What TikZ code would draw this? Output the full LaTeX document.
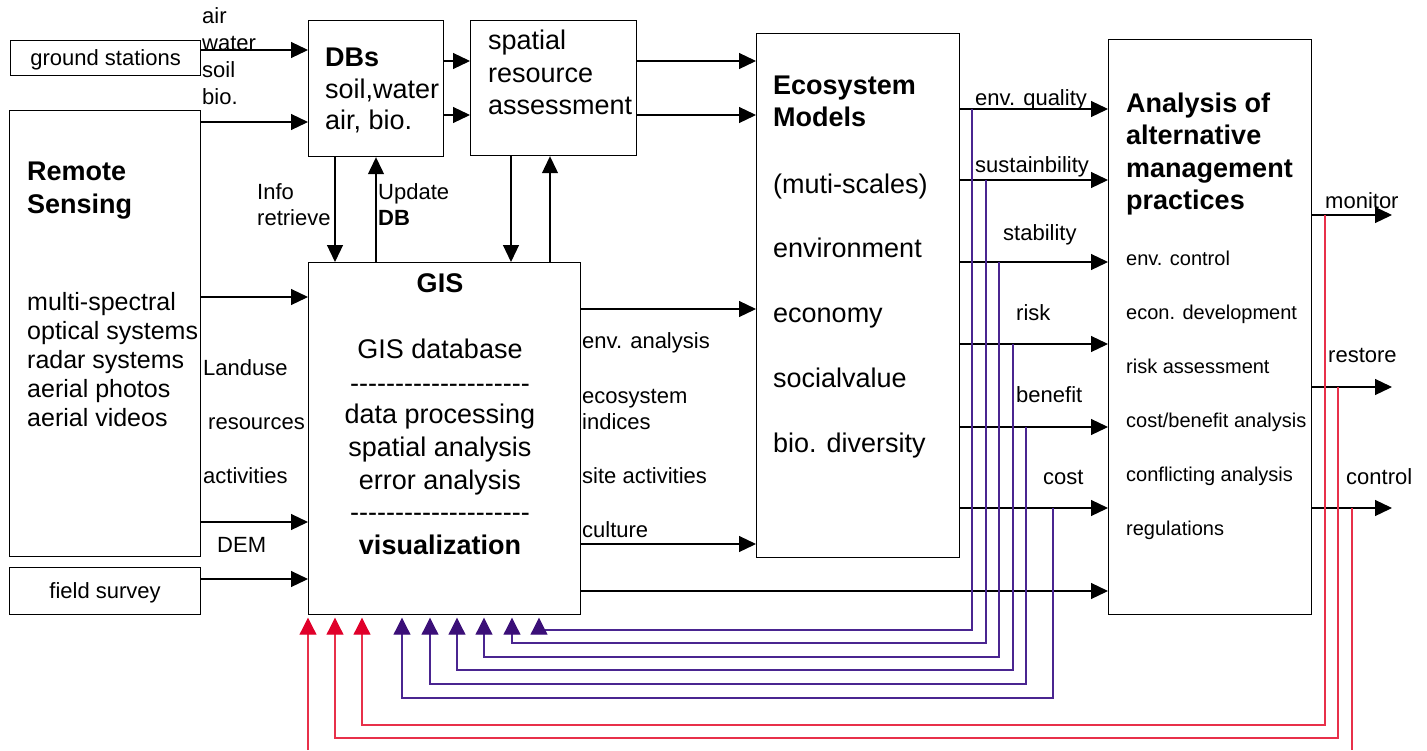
\documentclass[tikz,border=0pt]{standalone}
\usepackage{fontspec}
\setmainfont{Liberation Sans}
\usetikzlibrary{arrows.meta}
\definecolor{fbpurple}{HTML}{4A2590}
\definecolor{fbhead}{HTML}{3B0F78}
\definecolor{fbred}{HTML}{E8304A}
\definecolor{fbredhead}{HTML}{E0002A}
\newcommand\hy{-\kern0pt}
\newcommand\dashrow{\hy\hy\hy\hy\hy\hy\hy\hy\hy\hy\hy\hy\hy\hy\hy\hy\hy\hy\hy\hy}
\begin{document}
\begin{tikzpicture}[x=1pt,y=-1pt,
  box/.style={draw=black, line width=1.2pt, inner sep=0pt, anchor=north west},
  boxtext/.style={font=\fontsize{22}{26}\selectfont, text height=18pt, text depth=3pt},
  big/.style={inner sep=0pt, font=\fontsize{27}{32}\selectfont, text height=22pt, text depth=4pt},
  bigb/.style={inner sep=0pt, font=\fontsize{27}{32}\selectfont\bfseries, text height=22pt, text depth=4pt},
  rsf/.style={inner sep=0pt, font=\fontsize{25}{29}\selectfont, text height=20pt, text depth=3pt},
  mid/.style={inner sep=0pt, font=\fontsize{22}{26}\selectfont, text height=18pt, text depth=3pt},
  midb/.style={inner sep=0pt, font=\fontsize{22}{26}\selectfont\bfseries, text height=18pt, text depth=3pt},
  sml/.style={inner sep=0pt, font=\fontsize{20}{24}\selectfont, text height=17pt, text depth=3pt},
  L/.style={anchor=west},
  arr/.style={line width=1.2pt, -{Triangle[length=17pt,width=16pt]}},
  fbline/.style={draw=fbpurple, line width=1.1pt, -{Triangle[length=17pt,width=17pt,color=fbhead]}, shorten >=2.5pt},
  rdline/.style={draw=fbred, line width=1.1pt, -{Triangle[length=17pt,width=17pt,color=fbredhead]}, shorten >=2.5pt},
  rdplain/.style={draw=fbred, line width=1.1pt},
]
\useasboundingbox (0,0) rectangle (1427,750);
\fill[white] (0,0) rectangle (1427,750);

% ---------- boxes ----------
\node[box, boxtext, minimum width=190pt, minimum height=35pt] (gs) at (10,40) {ground stations};
\node[box, minimum width=191pt, minimum height=446pt] (rs) at (9,110) {};
\node[box, boxtext, minimum width=191pt, minimum height=47pt] (fs) at (9,567) {field survey};
\node[box, minimum width=135pt, minimum height=136pt] (dbs) at (308,20) {};
\node[box, minimum width=166pt, minimum height=135pt] (sra) at (470,20) {};
\node[box, minimum width=272pt, minimum height=352pt] (gis) at (308,262) {};
\node[box, minimum width=203pt, minimum height=524pt] (eco) at (756,33) {};
\node[box, minimum width=203pt, minimum height=575pt] (ana) at (1108,39) {};

% ---------- helper coordinates ----------
\coordinate (ya) at (0,50);
\coordinate (yb) at (0,122);
\coordinate (yc) at (0,61);
\coordinate (yd) at (0,115);
\coordinate (ye) at (0,297);
\coordinate (yf) at (0,522);
\coordinate (yg) at (0,579);
\coordinate (yh) at (0,309);
\coordinate (yi) at (0,544);
\coordinate (yj) at (0,591);
\coordinate (q1) at (0,109);
\coordinate (q2) at (0,180);
\coordinate (q3) at (0,262);
\coordinate (q4) at (0,344);
\coordinate (q5) at (0,427);
\coordinate (q6) at (0,508);
\coordinate (o1) at (0,215);
\coordinate (o2) at (0,387);
\coordinate (o3) at (0,508);
\coordinate (xa) at (335,0);
\coordinate (xb) at (376,0);
\coordinate (xc) at (511,0);
\coordinate (xd) at (550,0);
\coordinate (xo) at (1392,0);
% feedback verticals, levels, arrow x
\coordinate (v1) at (972,0);  \coordinate (l1) at (0,630); \coordinate (a1) at (539,0);
\coordinate (v2) at (986,0);  \coordinate (l2) at (0,643); \coordinate (a2) at (512,0);
\coordinate (v3) at (999,0);  \coordinate (l3) at (0,657); \coordinate (a3) at (484,0);
\coordinate (v4) at (1013,0); \coordinate (l4) at (0,670); \coordinate (a4) at (457,0);
\coordinate (v5) at (1026,0); \coordinate (l5) at (0,684); \coordinate (a5) at (430,0);
\coordinate (v6) at (1053,0); \coordinate (l6) at (0,698); \coordinate (a6) at (402,0);
\coordinate (r1) at (1325,0); \coordinate (l7) at (0,725); \coordinate (a7) at (362,0);
\coordinate (r2) at (1338,0); \coordinate (l8) at (0,738); \coordinate (a8) at (335,0);
\coordinate (r3) at (1352,0); \coordinate (bot) at (0,750); \coordinate (a9) at (308,0);

% ---------- black arrows ----------
\draw[arr] (gs.east |- ya) -- (dbs.west |- ya);
\draw[arr] (rs.east |- yb) -- (dbs.west |- yb);
\draw[arr] (dbs.east |- yc) -- (sra.west |- yc);
\draw[arr] (dbs.east |- yd) -- (sra.west |- yd);
\draw[arr] (sra.east |- yc) -- (eco.west |- yc);
\draw[arr] (sra.east |- yd) -- (eco.west |- yd);
\draw[arr] (dbs.south -| xa) -- (gis.north -| xa);
\draw[arr] (gis.north -| xb) -- (dbs.south -| xb);
\draw[arr] (sra.south -| xc) -- (gis.north -| xc);
\draw[arr] (gis.north -| xd) -- (sra.south -| xd);
\draw[arr] (rs.east |- ye) -- (gis.west |- ye);
\draw[arr] (rs.east |- yf) -- (gis.west |- yf);
\draw[arr] (fs.east |- yg) -- (gis.west |- yg);
\draw[arr] (gis.east |- yh) -- (eco.west |- yh);
\draw[arr] (gis.east |- yi) -- (eco.west |- yi);
\draw[arr] (gis.east |- yj) -- (ana.west |- yj);
\draw[arr] (eco.east |- q1) -- (ana.west |- q1);
\draw[arr] (eco.east |- q2) -- (ana.west |- q2);
\draw[arr] (eco.east |- q3) -- (ana.west |- q3);
\draw[arr] (eco.east |- q4) -- (ana.west |- q4);
\draw[arr] (eco.east |- q5) -- (ana.west |- q5);
\draw[arr] (eco.east |- q6) -- (ana.west |- q6);
\draw[arr] (ana.east |- o1) -- (xo |- o1);
\draw[arr] (ana.east |- o2) -- (xo |- o2);
\draw[arr] (ana.east |- o3) -- (xo |- o3);

% ---------- feedback (purple) ----------
\draw[fbline] (v1 |- q1) -- (v1 |- l1) -- (a1 |- l1) -- (a1 |- gis.south);
\draw[fbline] (v2 |- q2) -- (v2 |- l2) -- (a2 |- l2) -- (a2 |- gis.south);
\draw[fbline] (v3 |- q3) -- (v3 |- l3) -- (a3 |- l3) -- (a3 |- gis.south);
\draw[fbline] (v4 |- q4) -- (v4 |- l4) -- (a4 |- l4) -- (a4 |- gis.south);
\draw[fbline] (v5 |- q5) -- (v5 |- l5) -- (a5 |- l5) -- (a5 |- gis.south);
\draw[fbline] (v6 |- q6) -- (v6 |- l6) -- (a6 |- l6) -- (a6 |- gis.south);

% ---------- feedback (red) ----------
\draw[rdline] (r1 |- o1) -- (r1 |- l7) -- (a7 |- l7) -- (a7 |- gis.south);
\draw[rdline] (r2 |- o2) -- (r2 |- l8) -- (a8 |- l8) -- (a8 |- gis.south);
\draw[rdplain] (r3 |- o3) -- (r3 |- bot);
\draw[rdline] (a9 |- bot) -- (a9 |- gis.south);

% ---------- texts ----------
\node[mid, L] (tair) at (202,16) {air};
\node[mid, L] (twater) at (202,43) {water};
\node[mid, L] (tsoil) at (202,70) {soil};
\node[mid, L] (tbio) at (202,97) {bio.};

\node[bigb, L] (tdbs) at (325,57) {DBs};
\node[big, L] (tdb1) at (325,89) {soil,water};
\node[big, L] (tdb2) at (325,120) {air, bio.};

\node[big, L] (ts1) at (488,40) {spatial};
\node[big, L] (ts2) at (488,73) {resource};
\node[big, L] (ts3) at (488,105) {assessment};

\node[mid, L] (tinfo) at (257,192) {Info};
\node[mid, L] (tretr) at (257,218) {retrieve};
\node[mid, L] (tupd) at (378,192) {Update};
\node[midb, L] (tudb) at (378,218) {DB};

\node[bigb, L] (trs1) at (27,171) {Remote};
\node[bigb, L] (trs2) at (27,204) {Sensing};
\node[rsf, L] (trs3) at (27,302) {multi-spectral};
\node[rsf, L] (trs4) at (27,331) {optical systems};
\node[rsf, L] (trs5) at (27,360) {radar systems};
\node[rsf, L] (trs6) at (27,389) {aerial photos};
\node[rsf, L] (trs7) at (27,418) {aerial videos};

\node[mid, L] (tland) at (203,368) {Landuse};
\node[mid, L] (tres) at (208,422) {resources};
\node[mid, L] (tact) at (203,476) {activities};
\node[mid, L] (tdem) at (217,545) {DEM};

\node[bigb] (tg1) at (440,283) {GIS};
\node[big] (tg2) at (440,349) {GIS database};
\node[big] (tg3) at (440,383) {\dashrow};
\node[big] (tg4) at (440,414) {data processing};
\node[big] (tg5) at (440,447) {spatial analysis};
\node[big] (tg6) at (440,480) {error analysis};
\node[big] (tg7) at (440,512) {\dashrow};
\node[bigb] (tg8) at (440,545) {visualization};

\node[mid, L] (tga) at (582,341) {env. analysis};
\node[mid, L] (tgb) at (582,396) {ecosystem};
\node[mid, L] (tgc) at (582,422) {indices};
\node[mid, L] (tgd) at (582,476) {site activities};
\node[mid, L] (tge) at (582,530) {culture};

\node[bigb, L] (te1) at (773,85) {Ecosystem};
\node[bigb, L] (te2) at (773,117) {Models};
\node[big, L] (te3) at (773,184) {(muti-scales)};
\node[big, L] (te4) at (773,248) {environment};
\node[big, L] (te5) at (773,313) {economy};
\node[big, L] (te6) at (773,378) {socialvalue};
\node[big, L] (te7) at (773,443) {bio. diversity};

\node[mid, L] (tq1) at (975,98) {env. quality};
\node[mid, L] (tq2) at (975,165) {sustainbility};
\node[mid, L] (tq3) at (1003,233) {stability};
\node[mid, L] (tq4) at (1016,313) {risk};
\node[mid, L] (tq5) at (1016,395) {benefit};
\node[mid, L] (tq6) at (1043,477) {cost};

\node[bigb, L] (ta1) at (1126,103) {Analysis of};
\node[bigb, L] (ta2) at (1126,135) {alternative};
\node[bigb, L] (ta3) at (1126,168) {management};
\node[bigb, L] (ta4) at (1126,200) {practices};
\node[sml, L] (ta5) at (1126,258) {env. control};
\node[sml, L] (ta6) at (1126,312) {econ. development};
\node[sml, L] (ta7) at (1126,366) {risk assessment};
\node[sml, L] (ta8) at (1126,420) {cost/benefit analysis};
\node[sml, L] (ta9) at (1126,474) {conflicting analysis};
\node[sml, L] (ta10) at (1126,528) {regulations};

\node[mid, L] (to1) at (1325,201) {monitor};
\node[mid, L] (to2) at (1328,355) {restore};
\node[mid, L] (to3) at (1346,477) {control};
\end{tikzpicture}
\end{document}
